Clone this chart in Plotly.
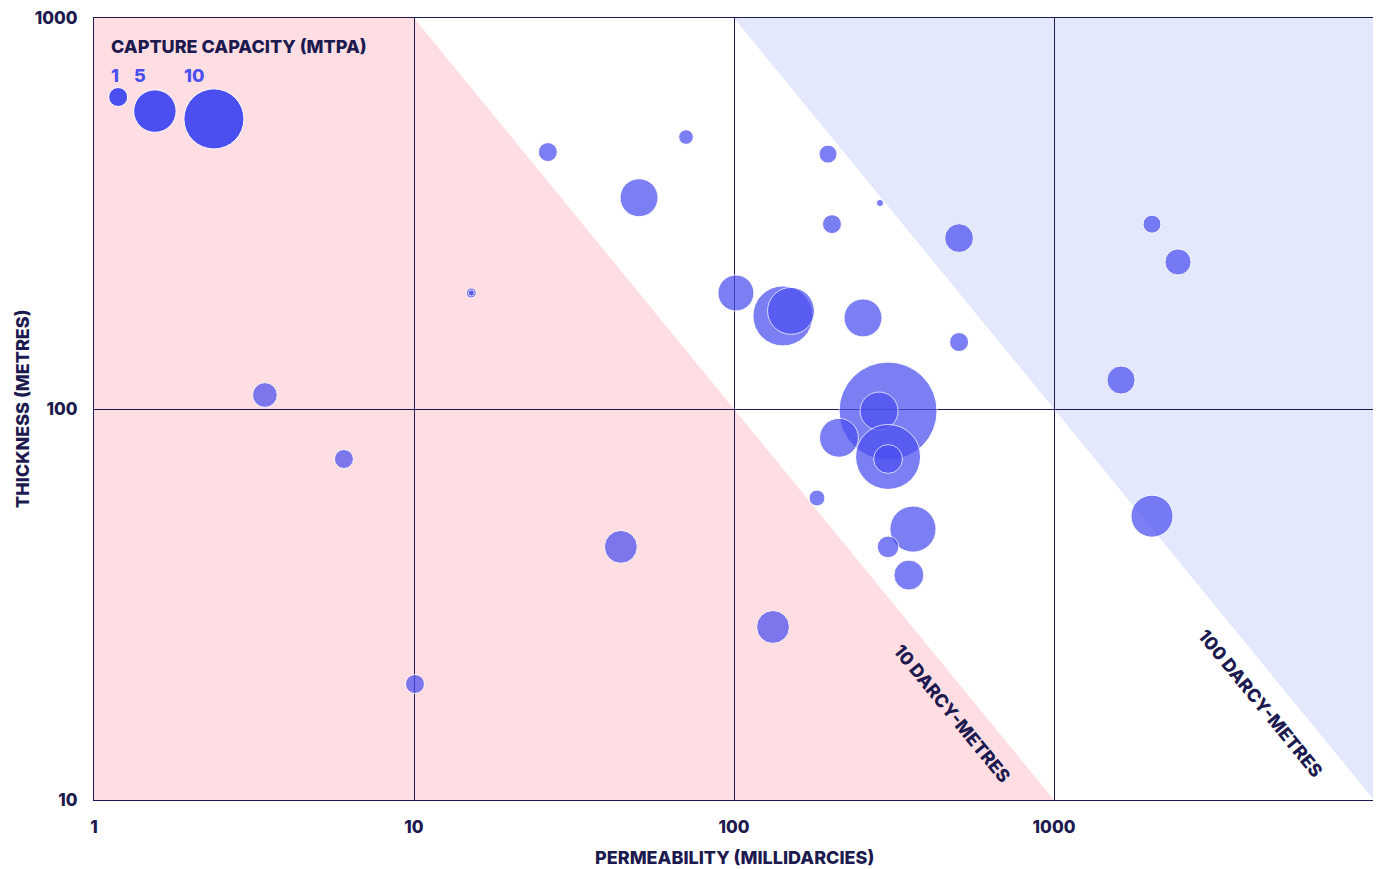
#!/usr/bin/env python
# -*- coding: utf-8 -*-

import numpy as np
import plotly.graph_objects as go

# --- data: storage sites (permeability mD, thickness m, capture capacity MTPA)
permeability = [26.2, 70.8, 50.5, 15.1, 15.1, 3.42, 6.04, 10.07, 44.3, 132.4,
                196.7, 286.0, 202.4, 505.0, 253.0, 505.0, 181.7, 362.5, 303.0, 352.0,
                101.4, 142.2, 150.7, 303.0, 284.0, 212.8, 303.0, 303.0,
                2024.0, 2441.0, 1620.0, 2024.0]
thickness = [454.0, 496.0, 347.0, 198.0, 198.0, 108.6, 74.5, 19.8, 44.4, 27.7,
             448.6, 336.5, 297.0, 273.6, 171.0, 148.3, 59.2, 49.3, 44.4, 37.6,
             198.0, 173.0, 178.2, 98.8, 98.8, 84.4, 75.4, 74.5,
             297.0, 237.7, 118.6, 53.2]
capacity = [1.0, 0.6, 4.0, 0.28, 0.1, 1.7, 1.0, 1.0, 3.0, 3.0,
            0.9, 0.14, 1.0, 2.3, 4.0, 1.0, 0.7, 5.9, 1.3, 2.5,
            3.6, 10.0, 6.1, 26.6, 4.0, 4.2, 11.7, 2.3,
            0.9, 1.9, 2.2, 4.9]

legend_capacity = [1, 5, 10]
legend_labels = ['1', '5', '10']

# transmissivity thresholds (mD*m)
kh_low = 10000     # 10 darcy-metres
kh_high = 100000   # 100 darcy-metres

x_ticks = [1, 10, 100, 1000]
y_ticks = [10, 100, 1000]

NAVY = '#1c1a4f'
BUBBLE = '#4b4ff0'
PINK = '#ffdee3'
LAVENDER = '#e3e8fd'
FONT = 'Inter'

x_min, x_max = 1, 10000
y_min, y_max = 10, 1000

SIZEREF = 2.0 / 19 ** 2   # diameter ~ 19px * sqrt(MTPA)

fig = go.Figure()

fig.add_trace(go.Scatter(
    x=permeability, y=thickness, mode='markers', hoverinfo='x+y+text',
    text=[f'{c} MTPA' for c in capacity],
    marker=dict(size=capacity, sizemode='area', sizeref=SIZEREF, color=BUBBLE,
                opacity=0.72, line=dict(color='white', width=1)),
    showlegend=False))

# size key (drawn on the data axes so it uses the same size scale)
legend_x = [1.19, 1.55, 2.37]
legend_y = [628, 578, 552]
fig.add_trace(go.Scatter(
    x=legend_x, y=legend_y, mode='markers', hoverinfo='skip',
    marker=dict(size=legend_capacity, sizemode='area', sizeref=SIZEREF, color=BUBBLE,
                opacity=1, line=dict(color='white', width=1)),
    showlegend=False))

#--- shaded regions below 10 D.m and above 100 D.m
def poly_path(pts):
    return 'M ' + ' L '.join(f'{x},{y}' for x, y in pts) + ' Z'

pink_pts = [(x_min, y_min), (x_min, y_max), (kh_low / y_max, y_max), (kh_low / y_min, y_min)]
blue_pts = [(kh_high / y_max, y_max), (x_max, y_max), (x_max, kh_high / x_max)]
shapes = [
    dict(type='path', path=poly_path(pink_pts), xref='x', yref='y',
         fillcolor=PINK, line=dict(width=0), layer='below'),
    dict(type='path', path=poly_path(blue_pts), xref='x', yref='y',
         fillcolor=LAVENDER, line=dict(width=0), layer='below'),
]

title_font = dict(family=FONT, size=18, color=NAVY, weight=800)
annotations = [
    dict(text='10 DARCY-METRES', x=np.log10(480), y=np.log10(16.6), xref='x', yref='y',
         showarrow=False, textangle=50.7, font=title_font),
    dict(text='100 DARCY-METRES', x=np.log10(4430), y=np.log10(17.7), xref='x', yref='y',
         showarrow=False, textangle=50.7, font=title_font),
    dict(text='CAPTURE CAPACITY (MTPA)', x=0.0117, y=0.964, xref='paper', yref='paper',
         xanchor='left', yanchor='middle', showarrow=False, font=title_font),
    dict(text='PERMEABILITY (MILLIDARCIES)', x=0.5, y=-0.0729, xref='paper', yref='paper',
         xanchor='center', yanchor='middle', showarrow=False, font=title_font),
    dict(text='THICKNESS (METRES)', x=-0.05625, y=0.5, xref='paper', yref='paper',
         xanchor='center', yanchor='middle', showarrow=False, textangle=-90, font=title_font),
]
for lbl, px in zip(legend_labels, [0.0164, 0.0359, 0.078]):
    annotations.append(dict(text=lbl, x=px, y=0.926, xref='paper', yref='paper',
                            xanchor='center', yanchor='middle', showarrow=False,
                            font=dict(family=FONT, size=18, color=BUBBLE, weight=800)))

axis_common = dict(type='log', showgrid=True, gridcolor=NAVY, gridwidth=1,
                   showline=True, linecolor=NAVY, linewidth=1, mirror=True,
                   ticks='', zeroline=False, ticklabeloverflow='allow',
                   tickfont=dict(family=FONT, size=17, color=NAVY, weight=800))

# page body has an 8px margin, so the figure is offset by 8px in the window
fig.update_layout(
    width=1367, height=861,
    margin=dict(l=86, r=1, t=10, b=69),
    paper_bgcolor='white', plot_bgcolor='white',
    shapes=shapes, annotations=annotations, showlegend=False,
    xaxis=dict(axis_common, range=[np.log10(x_min), np.log10(x_max)],
               tickvals=x_ticks, ticktext=[str(v) for v in x_ticks], ticklabelstandoff=12),
    yaxis=dict(axis_common, range=[np.log10(y_min), np.log10(y_max)],
               tickvals=y_ticks, ticktext=[str(v) for v in y_ticks], ticklabelstandoff=12),
)

fig.write_html('out.html')
